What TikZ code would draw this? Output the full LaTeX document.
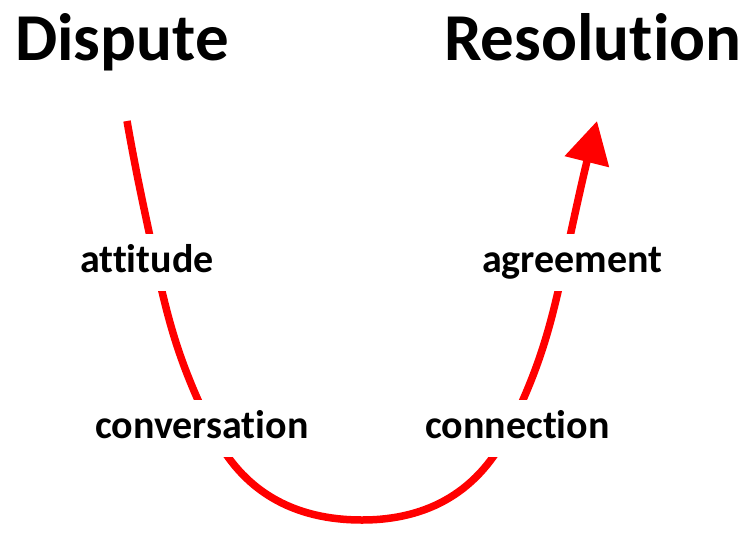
\documentclass[tikz,border=0pt]{standalone}
\usepackage{fontspec}
\setmainfont{Carlito}[Ligatures=NoCommon]
\usetikzlibrary{arrows.meta, backgrounds}
\definecolor{pathred}{RGB}{255, 0, 0}

\begin{document}
\begin{tikzpicture}[
    x=1pt, y=1pt,
    title/.style={anchor=base west, inner sep=0pt, font=\fontsize{67}{72}\selectfont\bfseries},
    word/.style={anchor=base west, fill=white, inner xsep=2pt, inner ysep=7pt,
                 text height=31pt, text depth=12pt,
                 font=\fontsize{40}{46}\selectfont\bfseries},
    curve/.style={draw=pathred, line width=7.5pt, -{Triangle[length=42pt, width=44pt]}}
]
\useasboundingbox (0,0) rectangle (748,-539);

%% headings
\node[title] (DSP) at (15,-60)  {Dispute};
\node[title] (RES) at (444,-60) {Resolution};

%% stages
\node[word] (ATT) at (78,-272)  {attitude};
\node[word] (CNV) at (93,-438)  {conversation};
\node[word] (CNX) at (423,-438) {connection};
\node[word] (AGR) at (480,-272) {agreement};

%% points on the path
\coordinate (start)  at (127,-121);
\coordinate (pAtt)   at (155,-260);
\coordinate (pCnv)   at (212,-430);
\coordinate (bottom) at (362,-520);
\coordinate (pCnx)   at (509,-430);
\coordinate (pAgr)   at (565,-260);
\coordinate (tip)    at (597,-121);

\begin{scope}[on background layer]
\draw[curve] (start) to[out=-80, in=102] (pAtt)
                     to[out=-78, in=116] (pCnv)
                     to[out=-64, in=180] (bottom)
                     to[out=0, in=-116] (pCnx)
                     to[out=64, in=-102] (pAgr)
                     to[out=78, in=-104] (tip);
\end{scope}

\end{tikzpicture}
\end{document}
